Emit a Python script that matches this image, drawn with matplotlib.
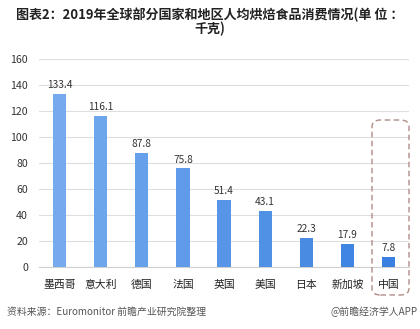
import matplotlib
matplotlib.use("Agg")
import matplotlib.pyplot as plt
from matplotlib.patches import FancyBboxPatch
from matplotlib.colors import to_rgb
import numpy as np

plt.rcParams['font.family'] = ['Noto Sans CJK SC', 'DejaVu Sans']

countries = ["墨西哥", "意大利", "德国", "法国", "英国", "美国", "日本", "新加坡", "中国"]
consumption = [133.4, 116.1, 87.8, 75.8, 51.4, 43.1, 22.3, 17.9, 7.8]
y_ticks = [0, 20, 40, 60, 80, 100, 120, 140, 160]

title = "图表2：2019年全球部分国家和地区人均烘焙食品消费情况(单 位 ：\n千克)"
source = "资料来源：Euromonitor 前瞻产业研究院整理"
credit = "@前瞻经济学人APP"

fig = plt.figure(figsize=(4.2, 3.29), dpi=100)
ax = fig.add_axes([0.093, 0.1884, 0.881, 0.6323])

x = np.arange(len(countries))
light = np.array(to_rgb("#75abee"))
deep = np.array(to_rgb("#3a80e0"))
colors = [tuple(light + (deep - light) * i / (len(x) - 1)) for i in range(len(x))]
ax.bar(x, consumption, width=0.32, color=colors, zorder=3)

for xi, v in zip(x, consumption):
    ax.text(xi, v + 3, f"{v}", ha="center", va="bottom", fontsize=7.3, color="#333333", zorder=4)

ax.set_xlim(-0.5, len(x) - 0.5)
ax.set_ylim(0, 160)
ax.set_yticks(y_ticks)
ax.set_xticks(x)
ax.set_xticklabels(countries, fontsize=7.8, color="#222222")
ax.tick_params(axis="y", labelsize=7.6, colors="#333333", length=0, pad=8)
ax.tick_params(axis="x", length=0, pad=9)
ax.grid(axis="y", color="#dedede", linewidth=0.8, zorder=0)
for s in ["top", "right", "left"]:
    ax.spines[s].set_visible(False)
ax.spines["bottom"].set_color("#d0d0d0")
ax.spines["bottom"].set_linewidth(0.8)

# dashed highlight box around the last category
box = FancyBboxPatch((372 / 420, 1 - 295 / 329), 37 / 420, 175 / 329,
                     boxstyle="round,pad=0,rounding_size=0.02",
                     transform=fig.transFigure, fill=False,
                     edgecolor="#b08c88", linewidth=1.0, linestyle=(0, (4, 2.5)))
fig.add_artist(box)

fig.text(0.5, 1 - 22 / 329, title, ha="center", va="center", fontsize=9.4,
         fontweight="bold", color="#222222", linespacing=1.0)
fig.text(7 / 420, 1 - 312 / 329, source, ha="left", va="center", fontsize=7.1, color="#555555")
fig.text(418 / 420, 1 - 312 / 329, credit, ha="right", va="center", fontsize=7.1, color="#555555")

fig.savefig("out.png", dpi=100)
